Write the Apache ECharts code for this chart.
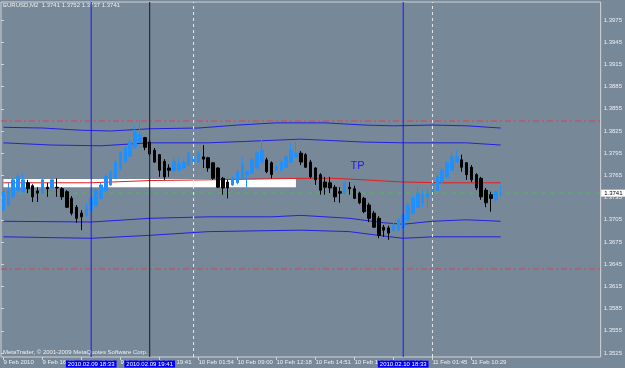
<!DOCTYPE html>
<html><head><meta charset="utf-8">
<script src="https://cdn.jsdelivr.net/npm/echarts@6/dist/echarts.min.js"></script>
<style>html,body{margin:0;padding:0;background:#778899}#c{width:625px;height:368px}</style>
</head><body><div id="c"></div>
<script>
// ---------- DATA ----------
const symbolName = 'EURUSD,M2';
const headerOHLC = [1.3741, 1.3752, 1.3737, 1.3741];
const nSlots = 123; // bar slots on the time axis (bars + empty right margin)
const timeLabels = {0:'9 Feb 2010', 8:'9 Feb 16:47', 16:'9 Feb 17:52', 24:'9 Feb 19:07', 32:'9 Feb 19:41',
  40:'10 Feb 01:54', 48:'10 Feb 09:00', 56:'10 Feb 12:18', 64:'10 Feb 14:51', 72:'10 Feb 16:58',
  80:'10 Feb 19:26', 88:'11 Feb 01:45', 96:'11 Feb 10:29'};

const open = [1.3718,1.3725,1.3736,1.3745,1.3743,1.3755,1.3751,1.3744,1.3741,1.3749,
1.3748,1.3749,1.3747,1.3743,1.3734,1.3722,1.3714,1.3711,1.3718,1.3724,
1.3734,1.3744,1.3752,1.3761,1.3774,1.3783,1.3791,1.3802,1.3810,1.3816,
1.3810,1.3799,1.3793,1.3784,1.3775,1.3771,1.3772,1.3775,1.3779,1.3784,
1.3783,1.3790,1.3789,1.3782,1.3775,1.3761,1.3756,1.3752,1.3755,1.3761,
1.3766,1.3768,1.3775,1.3783,1.3786,1.3782,1.3772,1.3772,1.3776,1.3783,
1.3790,1.3795,1.3793,1.3783,1.3775,1.3766,1.3756,1.3755,1.3749,1.3743,
1.3741,1.3749,1.3747,1.3741,1.3734,1.3725,1.3714,1.3707,1.3695,1.3694,
1.3691,1.3691,1.3694,1.3705,1.3714,1.3722,1.3728,1.3736,1.3739,1.3745,
1.3756,1.3763,1.3772,1.3783,1.3786,1.3782,1.3776,1.3766,1.3761,1.3745,
1.3739,1.3732,1.3740];
const close = [1.3743,1.3745,1.3759,1.3763,1.3759,1.3747,1.3736,1.3741,1.3759,1.3747,
1.3759,1.3748,1.3736,1.3722,1.3714,1.3707,1.3709,1.3722,1.3734,1.3745,
1.3752,1.3764,1.3770,1.3783,1.3795,1.3802,1.3810,1.3824,1.3820,1.3803,
1.3794,1.3783,1.3772,1.3763,1.3772,1.3784,1.3780,1.3783,1.3795,1.3790,
1.3795,1.3787,1.3775,1.3761,1.3749,1.3748,1.3748,1.3761,1.3770,1.3779,
1.3770,1.3786,1.3795,1.3799,1.3770,1.3766,1.3776,1.3783,1.3790,1.3799,
1.3795,1.3783,1.3776,1.3763,1.3759,1.3745,1.3749,1.3748,1.3736,1.3741,
1.3755,1.3747,1.3734,1.3728,1.3716,1.3707,1.3695,1.3684,1.3691,1.3687,
1.3698,1.3705,1.3711,1.3725,1.3734,1.3741,1.3739,1.3741,1.3752,1.3763,
1.3772,1.3782,1.3790,1.3790,1.3776,1.3766,1.3759,1.3748,1.3736,1.3728,
1.3734,1.3743,1.3741];
const low = [1.3717,1.3724,1.3734,1.3744,1.3741,1.3741,1.3729,1.3729,1.3740,1.3736,
1.3743,1.3736,1.3732,1.3721,1.3711,1.3701,1.3691,1.3709,1.3717,1.3722,
1.3733,1.3743,1.3751,1.3760,1.3772,1.3782,1.3790,1.3801,1.3809,1.3799,
1.3791,1.3782,1.3763,1.3759,1.3763,1.3768,1.3771,1.3774,1.3778,1.3783,
1.3782,1.3775,1.3770,1.3759,1.3748,1.3739,1.3734,1.3751,1.3753,1.3760,
1.3749,1.3767,1.3774,1.3782,1.3768,1.3761,1.3771,1.3771,1.3775,1.3782,
1.3789,1.3779,1.3775,1.3761,1.3752,1.3739,1.3739,1.3741,1.3729,1.3728,
1.3740,1.3739,1.3733,1.3726,1.3714,1.3702,1.3694,1.3680,1.3682,1.3678,
1.3689,1.3690,1.3693,1.3703,1.3713,1.3721,1.3722,1.3721,1.3737,1.3744,
1.3755,1.3761,1.3771,1.3782,1.3770,1.3759,1.3756,1.3745,1.3732,1.3722,
1.3716,1.3730,1.3737];
const high = [1.3745,1.3755,1.3761,1.3768,1.3768,1.3759,1.3753,1.3749,1.3761,1.3755,
1.3761,1.3761,1.3749,1.3745,1.3737,1.3725,1.3718,1.3728,1.3736,1.3748,
1.3755,1.3767,1.3772,1.3786,1.3798,1.3805,1.3813,1.3832,1.3840,1.3817,
1.3813,1.3802,1.3794,1.3787,1.3780,1.3789,1.3789,1.3786,1.3798,1.3793,
1.3798,1.3806,1.3790,1.3783,1.3776,1.3763,1.3759,1.3764,1.3772,1.3789,
1.3772,1.3789,1.3798,1.3813,1.3789,1.3784,1.3779,1.3786,1.3793,1.3809,
1.3810,1.3798,1.3795,1.3786,1.3776,1.3768,1.3763,1.3763,1.3752,1.3749,
1.3757,1.3756,1.3751,1.3743,1.3736,1.3728,1.3717,1.3710,1.3698,1.3697,
1.3701,1.3707,1.3714,1.3728,1.3737,1.3749,1.3745,1.3748,1.3755,1.3766,
1.3775,1.3784,1.3797,1.3799,1.3793,1.3783,1.3779,1.3768,1.3763,1.3748,
1.3743,1.3745,1.3752];

// channel lines (bar index, price)
const upperOuterIdx = [0,8,16,22,30,40,48,56,66,74,80,88,95,102];
const upperOuter    = [1.3830,1.3829,1.3826,1.3825,1.3828,1.3829,1.3833,1.3836,1.3836,1.3833,1.3832,1.3833,1.3832,1.3829];
const upperInnerIdx = [0,10,20,30,42,50,61,74,82,95,102];
const upperInner    = [1.3809,1.3806,1.3805,1.3809,1.3809,1.3811,1.3814,1.3810,1.3809,1.3809,1.3806];
const maIdx = [0,18,30,42,61,68,74,82,90,102];
const ma    = [1.3755,1.3755,1.3758,1.3759,1.3761,1.3761,1.3759,1.3756,1.3755,1.3755];
const lowerInnerIdx = [0,18,30,42,55,61,71,78,82,88,95,102];
const lowerInner    = [1.3703,1.3702,1.3707,1.3709,1.3709,1.3711,1.3707,1.3701,1.3699,1.3703,1.3705,1.3703];
const lowerOuterIdx = [0,18,30,42,61,71,78,82,88,95,102];
const lowerOuter    = [1.3682,1.3680,1.3684,1.3689,1.3691,1.3689,1.3683,1.3680,1.3682,1.3682,1.3682];

const levelLines = [1.38385, 1.36385];
const currentPrice = 1.3741;
const whiteBox = {from: 0, to: 60, top: 1.3760, bottom: 1.3749};
const blueVLines = [18, 82];
const blueVLabels = ['2010.02.09 18:33', '2010.02.10 18:33'];
const darkVLine = 30;
const darkVLabel = '2010.02.09 19:41';
const dashedVLines = [39, 88];
const tpMark = {idx: 72, price: 1.3778, text: 'TP'};
const yTicks = [1.3525,1.3555,1.3585,1.3615,1.3645,1.3675,1.3705,1.3735,1.3765,1.3795,1.3825,1.3855,1.3885,1.3915,1.3945,1.3975];
const yMin = 1.35196, yMax = 1.39993;

// ---------- BUILD ----------
const FONT = 'Liberation Sans';
const categories = Array.from({length: nSlots}, (_, i) => timeLabels[i] !== undefined ? timeLabels[i] : ('b' + i));
const candles = open.map((o, i) => [o, close[i], low[i], high[i]]);
const pairs = (idx, v) => idx.map((k, i) => [k, v[i]]);
const isLabel = (i) => timeLabels[i] !== undefined;
const titleText = symbolName + '  ' + headerOHLC.map(v => v.toFixed(4)).join(' ');

const lineSeries = (name, data, color, z, type, xAxisIndex) => ({
  type: 'line', name, data, symbol: 'none', silent: true, z: z || 3, xAxisIndex: xAxisIndex || 0,
  lineStyle: {color, width: 1, type: type || 'solid'}, animation: false
});
const boxLabel = {show: true, color: '#ffffff', backgroundColor: '#0000ee', padding: [1, 2, 0, 2], fontSize: 6, fontFamily: FONT};
const pointLabel = (coord, label) => ({silent: true, animation: false,
  data: [{coord, symbol: 'circle', symbolSize: 1, itemStyle: {color: 'rgba(0,0,0,0)'}, label}]});

// vertical lines (bar index based)
const vSeries = [];
blueVLines.forEach((k, i) => vSeries.push(Object.assign(
  lineSeries('blueV' + i, [[k, yMin], [k, yMax]], '#1818ff', 6), {
    markPoint: pointLabel([k, yMin], Object.assign({}, boxLabel, {position: 'bottom', distance: 3, formatter: blueVLabels[i]}))
  })));
vSeries.push(Object.assign(
  lineSeries('darkV', [[darkVLine, yMin], [darkVLine, yMax]], '#1a1a24', 6), {
    markPoint: pointLabel([darkVLine, yMin], Object.assign({}, boxLabel, {position: 'bottom', distance: 3, formatter: darkVLabel}))
  }));
dashedVLines.forEach((k, i) => vSeries.push(
  lineSeries('dashV' + i, [[k, yMin], [k, yMax]], '#eaeaea', 5, [3, 3])));

// horizontal lines across the whole plot (on a hidden 0..1 x axis)
const hSeries = levelLines.map((v, i) => lineSeries('level' + i, [[0, v], [1, v]], '#d8404c', 2, [6, 3, 2, 3], 1));
hSeries.push(Object.assign(lineSeries('price', [[0, currentPrice], [1, currentPrice]], '#44c444', 2, [5, 4], 1), {
  markPoint: pointLabel([1, currentPrice], {show: true, position: 'right', distance: 0, formatter: currentPrice.toFixed(4),
    color: '#000000', backgroundColor: '#ffffff', padding: [1, 3, 0, 3], fontSize: 6, fontFamily: FONT})
}));

const option = {
  backgroundColor: '#778899',
  animation: false,
  title: [
    {text: titleText, left: 3, top: 2, padding: 0,
     textStyle: {fontSize: 6, color: '#eeeeee', fontWeight: 'normal', fontFamily: FONT}},
    {text: 'MetaTrader, \u00a9 2001-2009 MetaQuotes Software Corp.', left: 3, top: 349, padding: 0,
     textStyle: {fontSize: 6, color: '#eeeeee', fontWeight: 'normal', fontFamily: FONT}}
  ],
  grid: {left: 1, right: 22, top: 2, bottom: 11, show: true, borderColor: '#d4d4d4', borderWidth: 1, backgroundColor: 'transparent'},
  xAxis: [{
    type: 'category', data: categories, boundaryGap: true,
    axisLine: {show: false},
    axisTick: {show: true, alignWithLabel: true, interval: (i) => isLabel(i), length: 3, lineStyle: {color: '#d4d4d4'}},
    axisLabel: {interval: (i) => isLabel(i), formatter: (v) => v.indexOf('b') === 0 ? '' : v,
      align: 'left', margin: 2, fontSize: 6, color: '#eeeeee', fontFamily: FONT},
    splitLine: {show: false}
  }, {
    type: 'value', min: 0, max: 1, show: false
  }],
  yAxis: {
    type: 'value', position: 'right', min: yMin, max: yMax, scale: true,
    axisLine: {show: false},
    axisTick: {show: true, length: 3, customValues: yTicks, lineStyle: {color: '#d4d4d4'}},
    axisLabel: {customValues: yTicks, formatter: (v) => v.toFixed(4), margin: 3, fontSize: 6, color: '#eeeeee', fontFamily: FONT},
    splitLine: {show: false}
  },
  series: [
    {
      type: 'candlestick', name: 'EURUSD', data: candles, barWidth: 3, z: 4,
      itemStyle: {color: '#1e90ff', color0: '#000000', borderColor: '#1e90ff', borderColor0: '#000000', borderWidth: 1},
      markArea: {
        silent: true, z: 1,
        itemStyle: {color: '#ffffff', opacity: 1},
        data: [[{xAxis: whiteBox.from, yAxis: whiteBox.top}, {xAxis: whiteBox.to, yAxis: whiteBox.bottom}]]
      },
      markPoint: pointLabel([tpMark.idx, tpMark.price],
        {show: true, position: 'inside', offset: [3, 0], formatter: tpMark.text, color: '#1a1aff', fontSize: 11, fontFamily: FONT})
    },
    lineSeries('upperOuter', pairs(upperOuterIdx, upperOuter), '#2222dd'),
    lineSeries('upperInner', pairs(upperInnerIdx, upperInner), '#2222dd'),
    lineSeries('ma', pairs(maIdx, ma), '#e41e1e'),
    lineSeries('lowerInner', pairs(lowerInnerIdx, lowerInner), '#2222dd'),
    lineSeries('lowerOuter', pairs(lowerOuterIdx, lowerOuter), '#2222dd'),
    ...hSeries,
    ...vSeries
  ]
};
const chart = echarts.init(document.getElementById('c'), null, {renderer: 'canvas'});
chart.setOption(option);
</script></body></html>
